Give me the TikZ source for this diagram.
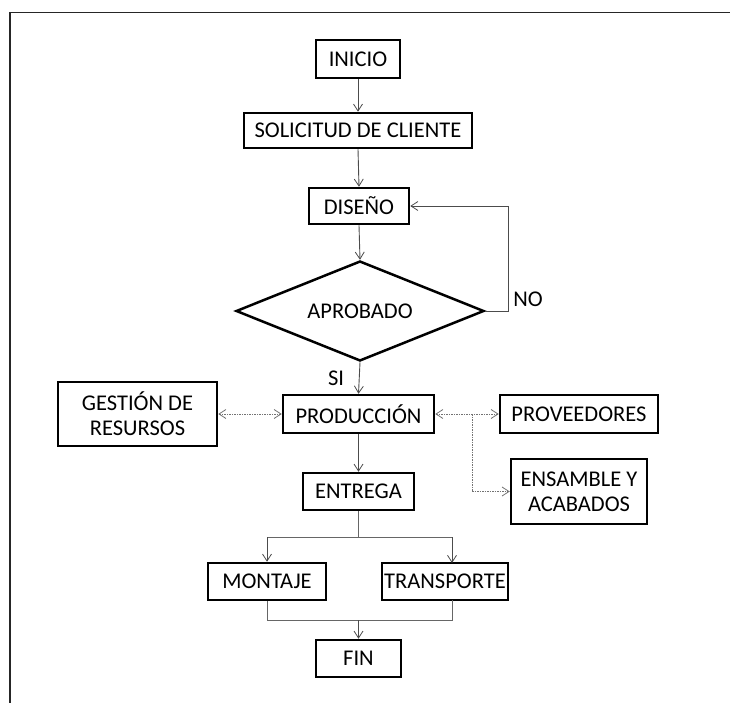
\documentclass[tikz,border=0pt]{standalone}
\usepackage{fontspec}
\setmainfont{Carlito}
\usetikzlibrary{arrows.meta,shapes.geometric}

\tikzset{
  barb/.tip={Straight Barb[length=7pt,width=9pt,line width=0.8pt]},
  stepbox/.style={draw=black, line width=2.5pt, rectangle, inner sep=0pt,
    font=\fontsize{22.5}{25}\selectfont, align=center},
  decision/.style={draw=black, line width=2.5pt, diamond, aspect=2.48, inner sep=0pt,
    minimum width=248pt, minimum height=100pt, font=\fontsize{22.5}{25}\selectfont},
  flow/.style={draw=black!70, line width=0.9pt, -barb},
  plain/.style={draw=black!60, line width=1pt},
  link/.style={draw=black!55, line width=0.9pt, dash pattern=on 1.5pt off 1pt},
  tag/.style={font=\fontsize{22.5}{25}\selectfont, inner sep=0pt},
}

\begin{document}
\begin{tikzpicture}[x=1pt,y=-1pt]
  \useasboundingbox (0,0) rectangle (730,703);

  % outer frame (top and left edges)
  \draw[black!85, line width=1.8pt] (730,12.5) -- (10,12.5) -- (10,703);

  % process steps
  \node[stepbox, minimum width=84pt,  minimum height=38pt] (inicio)      at (358,59)    {INICIO};
  \node[stepbox, minimum width=228pt, minimum height=35pt] (solicitud)   at (358,130.5) {SOLICITUD DE CLIENTE};
  \node[stepbox, minimum width=100pt, minimum height=36pt] (diseno)      at (359,206)   {DISEÑO};
  \node[decision]                                          (aprobado)    at (360,311)   {APROBADO};
  \node[stepbox, minimum width=151pt, minimum height=38pt] (produccion)  at (358.5,414) {PRODUCCIÓN};
  \node[stepbox, minimum width=159pt, minimum height=64pt] (gestion)     at (137.5,414) {GESTIÓN DE\\RESURSOS};
  \node[stepbox, minimum width=158pt, minimum height=38pt] (proveedores) at (579,414)   {PROVEEDORES};
  \node[stepbox, minimum width=136pt, minimum height=65pt] (ensamble)    at (579,491.5) {ENSAMBLE Y\\ACABADOS};
  \node[stepbox, minimum width=111pt, minimum height=37pt] (entrega)     at (358.5,491.5) {ENTREGA};
  \node[stepbox, minimum width=118pt, minimum height=37pt] (montaje)     at (267,581.5) {MONTAJE};
  \node[stepbox, minimum width=126pt, minimum height=37pt] (transporte)  at (445,581.5) {TRANSPORTE};
  \node[stepbox, minimum width=85pt,  minimum height=37pt] (fin)         at (358.5,658.5) {FIN};

  % labels of the decision
  \node[tag] (no) at (528,299) {NO};
  \node[tag] (si) at (336,378) {SI};

  % main flow
  \draw[flow] (inicio.south) -- (solicitud.north);
  \draw[flow] (solicitud.south) -- (diseno.north);
  \draw[flow] (diseno.south) -- (aprobado.north);
  \draw[flow] (aprobado.east) -- ++(23,0) |- (diseno.east);
  \draw[flow] (aprobado.south) -- (produccion.north);
  \draw[flow] (produccion.south) -- (entrega.north);

  % support links around production
  \coordinate (branch) at (472,414);
  \draw[link, barb-barb] (produccion.west) -- (gestion.east);
  \draw[link, barb-barb] (produccion.east) -- (proveedores.west);
  \draw[link, -barb] (branch) |- (ensamble.west);

  % split into assembly and transport
  \coordinate (split) at (358.5,537);
  \coordinate (splitl) at (267,537);
  \coordinate (splitr) at (452,537);
  \coordinate (mergel) at (267,620);
  \coordinate (merger) at (452,620);
  \coordinate (merge) at (358.5,620);
  \coordinate (tin) at (452,563);
  \coordinate (tout) at (452,600);
  \draw[plain] (entrega.south) -- (split);
  \draw[plain] (splitl) -- (splitr);
  \draw[flow] (splitl) -- (montaje.north);
  \draw[flow] (splitr) -- (tin);
  \draw[plain] (montaje.south) -- (mergel) -- (merger) -- (tout);
  \draw[flow] (merge) -- (fin.north);
\end{tikzpicture}
\end{document}
